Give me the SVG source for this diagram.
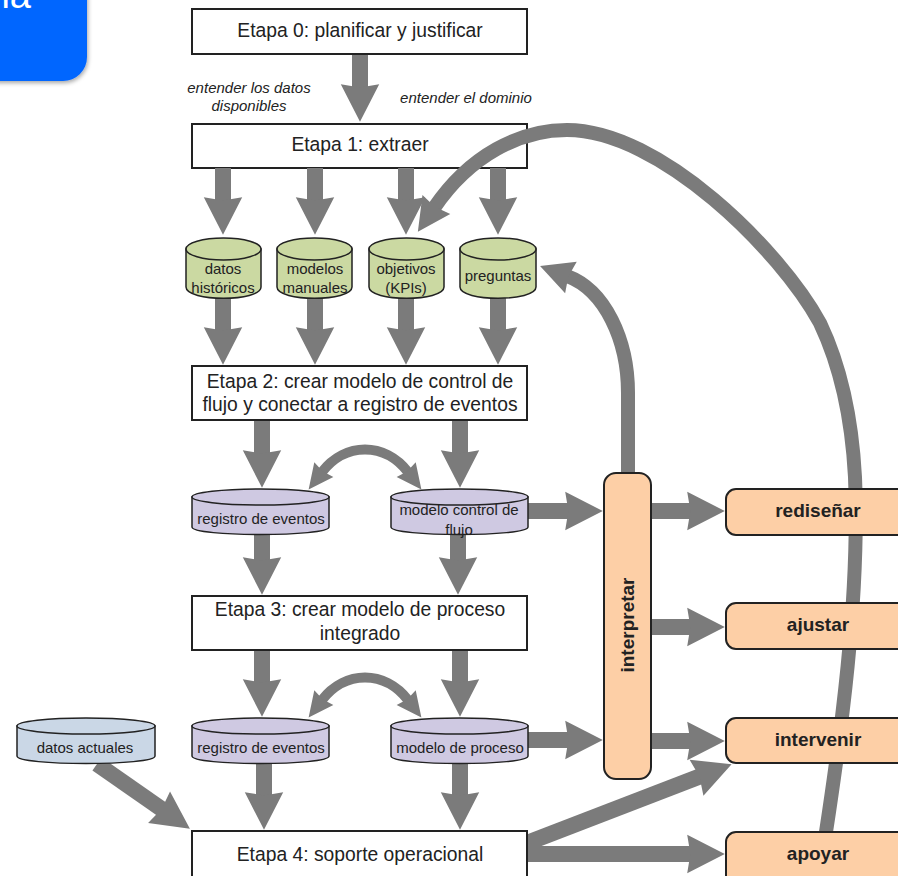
<svg xmlns="http://www.w3.org/2000/svg" width="898" height="876" viewBox="0 0 898 876">
<style>
text{font-family:"Liberation Sans",Arial,sans-serif;fill:#222;text-anchor:middle}
.stage rect{fill:#fff;stroke:#222;stroke-width:2}
.stage text{font-size:19.3px}
.cyl path,.cyl ellipse{stroke:#222;stroke-width:1.5}
.cyl text{font-size:15px}
.g path,.g ellipse{fill:#cbd9a2}
.p path,.p ellipse{fill:#cfc9e2}
.b path,.b ellipse{fill:#cad7e6}
.act rect{fill:#fdcfa6;stroke:#222;stroke-width:2}
.act text{font-size:19px;font-weight:bold}
.note{font-size:15px;font-style:italic}
.c path{fill:none;stroke:#7b7b7b;stroke-width:16;marker-end:url(#h)}
.c path.t{stroke-width:14}
.c path.d{stroke-width:10;marker-start:url(#hs);marker-end:url(#hs)}
</style>
<defs>
<marker id="h" markerUnits="strokeWidth" markerWidth="2.4" markerHeight="2.4" refX=".3" refY="1.2" orient="auto" overflow="visible"><path d="M0 0L2.35 1.2L0 2.4L.2 1.2z" fill="#7b7b7b" stroke="none"/></marker>
<marker id="hs" markerUnits="strokeWidth" markerWidth="2.4" markerHeight="2.4" refX=".3" refY="1.2" orient="auto-start-reverse" overflow="visible"><path d="M0 0L2.5 1.2L0 2.4L.2 1.2z" fill="#7b7b7b" stroke="none"/></marker>
<filter id="s" x="-20%" y="-20%" width="140%" height="140%"><feDropShadow dx="1" dy="2" stdDeviation="2" flood-color="#000" flood-opacity=".35"/></filter>
</defs>
<rect width="898" height="876" fill="#fff"/>
<g id="banner"><rect x="-30" y="-30" width="117" height="111" rx="24" fill="#0066ff" filter="url(#s)"/><text x="31" y="8" font-size="38" style="fill:#fff;text-anchor:end">ia</text></g>
<g id="etapa1" class="stage"><rect x="192" y="124" width="335" height="44"/><text x="360" y="151">Etapa 1: extraer</text></g>
<g id="connectors" class="c">
<path d="M360 54V89"/>
<path d="M223 168V202"/><path d="M315 168V202"/><path d="M406 168V202"/><path d="M498 168V202"/>
<path d="M223 298V332"/><path d="M315 298V332"/><path d="M406 298V332"/><path d="M498 298V332"/>
<path d="M262 420V455"/><path d="M460 420V455"/>
<path d="M262 535V562"/><path d="M458 535V562"/>
<path d="M262 650V684"/><path d="M460 650V684"/>
<path d="M264 764V797"/><path d="M460 764V797"/>
<path d="M97 764L163 810"/>
<path d="M528 511H570"/><path d="M528 740H570"/>
<path d="M651 511H692"/><path d="M651 627H692"/><path d="M651 741H692"/>
<path d="M527 843L701 776"/><path d="M527 854H692"/>
<path class="t" d="M628 473V393C628 340 605 290 567 276"/>
<path class="t" d="M826 832C840 740 860 600 855 477C852 420 840 365 820 323C780 250 660 130 567 130C520 130 470 155 434 208"/>
<path class="d" d="M322 472C345 442 385 442 408 472"/>
<path class="d" d="M322 700C345 670 385 670 408 700"/>
</g>
<g id="etapa0" class="stage"><rect x="192" y="9" width="335" height="45"/><text x="360" y="37">Etapa 0: planificar y justificar</text></g>
<g id="etapa2" class="stage"><rect x="192" y="366" width="335" height="54"/><text x="360" y="388">Etapa 2: crear modelo de control de</text><text x="360" y="411">flujo y conectar a registro de eventos</text></g>
<g id="etapa3" class="stage"><rect x="192" y="596" width="335" height="54"/><text x="360" y="616">Etapa 3: crear modelo de proceso</text><text x="360" y="640">integrado</text></g>
<g id="etapa4" class="stage"><rect x="192" y="831" width="335" height="60"/><text x="360" y="861">Etapa 4: soporte operacional</text></g>
<g id="nota1"><text class="note" x="249" y="93">entender los datos</text><text class="note" x="249" y="111">disponibles</text></g>
<g id="nota2"><text class="note" x="466" y="103">entender el dominio</text></g>
<g id="datos-historicos" class="cyl g"><path d="M186 249V287C186 302 261 302 261 287V249z"/><ellipse cx="223.500" cy="249" rx="37.500" ry="11"/><text x="223" y="274">datos</text><text x="223" y="293">históricos</text></g>
<g id="modelos-manuales" class="cyl g"><path d="M277 249V287C277 302 352 302 352 287V249z"/><ellipse cx="314.500" cy="249" rx="37.500" ry="11"/><text x="315" y="274">modelos</text><text x="315" y="293">manuales</text></g>
<g id="objetivos" class="cyl g"><path d="M369 249V287C369 302 444 302 444 287V249z"/><ellipse cx="406.500" cy="249" rx="37.500" ry="11"/><text x="406" y="274">objetivos</text><text x="406" y="293">(KPIs)</text></g>
<g id="preguntas" class="cyl g"><path d="M460 249V287C460 302 536 302 536 287V249z"/><ellipse cx="498" cy="249" rx="38" ry="11"/><text x="498" y="281">preguntas</text></g>
<g id="registro1" class="cyl p"><path d="M192 497V527C192 537 329 537 329 527V497z"/><ellipse cx="260.500" cy="497" rx="68.500" ry="8"/><text x="261" y="524">registro de eventos</text></g>
<g id="modelo-control" class="cyl p"><path d="M391 497V527C391 537 528 537 528 527V497z"/><ellipse cx="459.500" cy="497" rx="68.500" ry="8"/><text x="459" y="515">modelo control de</text><text x="459" y="535">flujo</text></g>
<g id="datos-actuales" class="cyl b"><path d="M17 726V756C17 766 155 766 155 756V726z"/><ellipse cx="86" cy="726" rx="69" ry="8"/><text x="85" y="753">datos actuales</text></g>
<g id="registro2" class="cyl p"><path d="M192 726V756C192 766 329 766 329 756V726z"/><ellipse cx="260.500" cy="726" rx="68.500" ry="8"/><text x="261" y="753">registro de eventos</text></g>
<g id="modelo-proceso" class="cyl p"><path d="M391 726V756C391 766 528 766 528 756V726z"/><ellipse cx="459.500" cy="726" rx="68.500" ry="8"/><text x="460" y="753">modelo de proceso</text></g>
<g id="interpretar" class="act"><rect x="604" y="473" width="47" height="306" rx="12"/><text transform="translate(634 625) rotate(-90)">interpretar</text></g>
<g id="redisenar" class="act"><rect x="726" y="489" width="200" height="46" rx="10"/><text x="818" y="517">rediseñar</text></g>
<g id="ajustar" class="act"><rect x="726" y="603" width="200" height="46" rx="10"/><text x="818" y="631">ajustar</text></g>
<g id="intervenir" class="act"><rect x="726" y="718" width="200" height="45" rx="10"/><text x="818" y="746">intervenir</text></g>
<g id="apoyar" class="act"><rect x="726" y="832" width="200" height="60" rx="10"/><text x="818" y="860">apoyar</text></g>
</svg>
